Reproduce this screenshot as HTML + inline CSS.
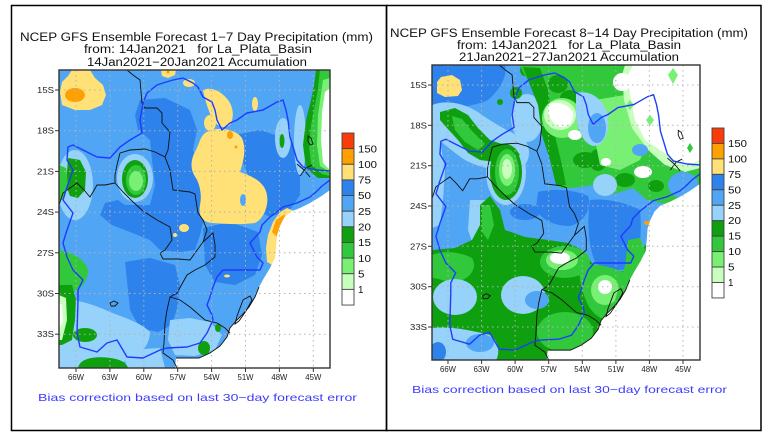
<!DOCTYPE html>
<html><head><meta charset="utf-8"><style>
html,body{margin:0;padding:0;background:#fff;}
svg{display:block;}
text{font-family:"Liberation Sans",sans-serif;white-space:pre;}
</style></head><body>
<svg width="769" height="436" viewBox="0 0 769 436" xmlns="http://www.w3.org/2000/svg">
<defs>
<clipPath id="cL"><rect x="59" y="70" width="271" height="298"/></clipPath>
<clipPath id="cR"><rect x="432" y="65" width="268" height="295"/></clipPath>
<path id="ocean" d="M330,190 L320,197 L310,203 L300,208 L290,212 L284,218 L280,226 L277,235 L276,248 L275,258 L270,268 L264,278 L259,287 L255,297 L249,307 L243,314 L236,321 L230,328 L227,337 L220,346 L210,353 L199,358 L176,358 L175,368 L330,368 Z" fill="#fff"/>
<g id="geo" fill="none">
 <g stroke="#111" stroke-width="0.9">
  <polyline points="127,70 133,75 140,80 141,92 142,103 145,108 157,108 162,113 162,123 170,132 168,150 165,157 170,170 173,190 190,192 195,194 197,207 198,213 203,220 207,230 203,242"/>
  <polyline points="120,153 130,150 145,149 155,152 165,157"/>
  <polyline points="120,153 117,165 115,175 115,183 105,185 97,185 93,192 90,197 84,190 77,183 70,188 63,193 59,205"/>
  <polyline points="115,183 123,192 133,202 143,211 157,220 170,227 172,240 165,250 160,253 163,259 178,259 190,260 195,253 203,242"/>
  <polyline points="203,242 213,233 215,245 215,257 205,265 195,270 187,275 177,293 170,297 167,310 165,323 164,343 163,353 173,360 177,368"/>
  <polyline points="170,297 180,300 190,307 197,313 205,320 217,323 225,328 230,333"/>
  <polyline points="259,287 255,297 249,307 243,314 236,321 230,328 227,337 220,346 210,353 199,358 176,358"/>
  <path d="M243,300 L250,296 L252,300 L246,311 L239,321 L235,324 L237,316 Z"/>
  <path d="M110,303 L114,301 L118,303 L115,306 L111,306 Z"/>
  <path d="M308,136 L311,138 L313,144 L310,145 L308,141 Z"/>
  <polyline points="297,164 304,170 310,177"/>
  <polyline points="300,176 306,168 312,165"/>
 </g>
 <polyline stroke="#1e3cff" stroke-width="1.4" stroke-linejoin="round" points="183,78 193,83 198,87 203,97 212,102 215,110 217,120 222,130 230,123 237,120 247,113 263,110 277,102 283,100 286,110 288,120 290,137 294,150 297,160 303,167 317,170 330,171"/>
 <polyline stroke="#1e3cff" stroke-width="1.4" stroke-linejoin="round" points="330,180 322,186 316,192 310,197 297,203 283,207 270,217 262,225 260,232 250,243 257,257 263,263 260,270 243,270 223,270 217,277 213,287 210,297 207,305 212,315 213,320 207,333 200,343 187,347 167,348 160,350 143,358 127,357 117,340 107,343 97,352 80,347 77,333 78,300 78,290 83,280 73,270 67,257 63,243 67,230 73,213 63,200 67,187 73,170 67,160 68,147 73,145 83,150 97,157 110,158 120,147 130,140 142,133 140,120 143,103 147,93 157,85 163,83 173,80 183,78"/>
</g>
</defs>

<!-- panel frames -->
<rect x="11.5" y="5.5" width="375" height="425" fill="none" stroke="#000" stroke-width="1.5"/>
<rect x="386.5" y="5.5" width="374.5" height="425" fill="none" stroke="#000" stroke-width="1.5"/>

<!-- titles -->
<text x="20" y="41" font-size="11.5" textLength="353" lengthAdjust="spacingAndGlyphs" fill="#111">NCEP GFS Ensemble Forecast 1−7 Day Precipitation (mm)</text>
<text x="84" y="53" font-size="11.5" textLength="228" lengthAdjust="spacingAndGlyphs" fill="#111">from: 14Jan2021   for La_Plata_Basin</text>
<text x="87" y="66" font-size="11.5" textLength="220" lengthAdjust="spacingAndGlyphs" fill="#111">14Jan2021−20Jan2021 Accumulation</text>

<text x="390" y="37" font-size="11.5" textLength="358" lengthAdjust="spacingAndGlyphs" fill="#111">NCEP GFS Ensemble Forecast 8−14 Day Precipitation (mm)</text>
<text x="457" y="49" font-size="11.5" textLength="224" lengthAdjust="spacingAndGlyphs" fill="#111">from: 14Jan2021   for La_Plata_Basin</text>
<text x="459" y="61" font-size="11.5" textLength="220" lengthAdjust="spacingAndGlyphs" fill="#111">21Jan2021−27Jan2021 Accumulation</text>

<!-- ================= LEFT MAP ================= -->
<g clip-path="url(#cL)">
<rect x="59" y="70" width="271" height="298" fill="#50a5f5"/>
<path fill="#2d82eb" d="M140,100 L165,98 L190,110 L197,130 L193,150 L200,170 L205,190 L205,215 L200,235 L195,250 L180,252 L160,250 L150,240 L130,232 L112,225 L100,215 L105,203 L118,200 L125,205 L150,205 L155,185 L152,160 L150,140 L138,130 L135,115 Z"/>
<path fill="#2d82eb" d="M125,262 L150,258 L175,265 L180,285 L178,305 L172,325 L158,332 L140,328 L130,310 L128,290 Z"/>
<path fill="#2d82eb" d="M235,135 L260,130 L290,140 L300,165 L300,195 L290,210 L270,217 L262,213 L255,200 L248,175 L240,155 Z"/>
<path fill="#2d82eb" d="M203,228 L230,222 L258,232 L262,255 L255,275 L235,285 L215,282 L205,265 Z"/>
<path fill="#96d2fa" d="M59,300 C75,298 95,305 110,312 C125,318 140,322 150,332 C150,345 140,355 130,360 C110,366 90,368 59,368 Z"/>
<path fill="#96d2fa" d="M170,320 L190,318 L210,322 L222,335 L215,350 L195,356 L175,355 L168,340 Z"/>
<path fill="#96d2fa" d="M127,350 L160,348 L165,368 L125,368 Z"/>
<ellipse cx="75" cy="185" rx="18" ry="35" fill="#96d2fa"/>
<ellipse cx="283" cy="138" rx="8" ry="20" fill="#96d2fa"/>
<ellipse cx="300" cy="140" rx="6" ry="35" fill="#96d2fa"/>
<ellipse cx="135" cy="178" rx="18" ry="24" fill="#96d2fa"/>
<ellipse cx="135" cy="179" rx="13" ry="19" fill="#0fa00f"/>
<ellipse cx="136" cy="180" rx="10" ry="15" fill="#32c83c"/>
<ellipse cx="136" cy="181" rx="7" ry="10" fill="#78f073"/>
<path fill="#0fa00f" d="M68,158 L80,160 L86,172 L85,190 L78,198 L70,196 L66,185 Z"/>
<path fill="#32c83c" d="M59,165 L66,168 L68,185 L62,200 L59,200 Z"/>
<path fill="#32c83c" d="M59,250 C70,252 85,258 88,270 C88,282 80,290 72,292 L59,292 Z"/>
<path fill="#0fa00f" d="M59,285 L72,285 L76,300 L75,320 L72,340 L62,345 L59,345 Z"/>
<path fill="#c8ffbe" d="M59,295 L66,298 L67,320 L62,340 L59,340 Z"/>
<path fill="#fff" d="M59,303 L62,305 L63,322 L59,328 Z"/>
<ellipse cx="85" cy="335" rx="12" ry="7" fill="#0fa00f"/>
<path fill="#0fa00f" d="M78,368 C80,358 95,356 110,358 C120,359 127,363 128,368 Z"/>
<ellipse cx="218" cy="328" rx="3" ry="4" fill="#0fa00f"/>
<ellipse cx="204" cy="348" rx="6" ry="7" fill="#0fa00f"/>
<ellipse cx="282" cy="141" rx="2.5" ry="7" fill="#0fa00f"/>
<path fill="#0fa00f" d="M316,70 L330,70 L330,178 L318,178 L306,168 L303,145 L306,120 L311,100 L314,85 Z"/>
<path fill="#32c83c" d="M320,70 L330,70 L330,176 L322,174 L311,164 L309,145 L311,125 L315,105 L318,88 Z"/>
<path fill="#78f073" d="M323,80 L330,78 L330,172 L320,166 L317,145 L318,115 Z"/>
<path fill="#fff" d="M325,92 L330,88 L330,170 L323,163 L321,140 L322,112 Z"/>
<path fill="#ffe178" d="M72,70 L90,70 L95,78 L103,85 L106,95 L102,105 L90,110 L75,110 L62,105 L60,92 L62,82 L68,76 Z"/>
<ellipse cx="75" cy="95" rx="10" ry="7" fill="#ffa000"/>
<path fill="#ffe178" d="M161,70 L176,70 L175,75 L168,78 L162,76 Z"/>
<circle cx="168" cy="72" r="1.5" fill="#ffa000"/>
<ellipse cx="189" cy="83" rx="6" ry="4" fill="#ffe178"/>
<path fill="#ffe178" d="M203,90 C212,86 222,92 228,100 C234,108 234,118 230,125 C224,130 216,126 212,118 C208,110 205,100 203,90 Z"/>
<ellipse cx="210" cy="123" rx="6" ry="8" fill="#ffe178"/>
<ellipse cx="255" cy="104" rx="3" ry="7" fill="#ffe178"/>
<path fill="#ffe178" d="M205,133 C215,126 235,128 242,138 C247,150 243,162 240,172 C252,176 265,182 267,195 C269,208 262,220 255,223 C240,225 225,224 212,223 C202,222 198,215 200,205 C202,195 200,185 196,178 C190,170 190,160 196,150 C200,142 200,137 205,133 Z"/>
<ellipse cx="243" cy="200" rx="3" ry="6" fill="#50a5f5"/>
<ellipse cx="230" cy="135" rx="3" ry="4" fill="#ffa000"/>
<circle cx="236" cy="147" r="1.5" fill="#ffa000"/>
<ellipse cx="184" cy="228" rx="5" ry="4" fill="#ffe178"/>
<circle cx="175" cy="235" r="2" fill="#ffe178"/>
<path fill="#ffe178" d="M287,208 L294,211 L288,222 L281,232 L278,245 L277,258 L272,265 L267,262 L266,248 L268,235 L273,222 L280,212 Z"/>
<path fill="#ffa000" d="M276,220 L285,214 L283,228 L277,237 L272,232 Z"/>
<ellipse cx="227" cy="276" rx="3" ry="1.5" fill="#ffe178"/>
<use href="#ocean"/>
<use href="#geo"/>
<g stroke="#b4b4b4" stroke-width="1" stroke-dasharray="1.5,3.5">
<line x1="76" y1="70" x2="76" y2="368"/><line x1="109.9" y1="70" x2="109.9" y2="368"/><line x1="143.8" y1="70" x2="143.8" y2="368"/><line x1="177.7" y1="70" x2="177.7" y2="368"/><line x1="211.6" y1="70" x2="211.6" y2="368"/><line x1="245.5" y1="70" x2="245.5" y2="368"/><line x1="279.4" y1="70" x2="279.4" y2="368"/><line x1="313.3" y1="70" x2="313.3" y2="368"/>
<line x1="59" y1="90" x2="330" y2="90"/><line x1="59" y1="130.7" x2="330" y2="130.7"/><line x1="59" y1="171.4" x2="330" y2="171.4"/><line x1="59" y1="212.1" x2="330" y2="212.1"/><line x1="59" y1="252.8" x2="330" y2="252.8"/><line x1="59" y1="293.5" x2="330" y2="293.5"/><line x1="59" y1="334.2" x2="330" y2="334.2"/>
</g>
</g>
<rect x="59" y="70" width="271" height="298" fill="none" stroke="#333" stroke-width="1.4"/>
<g stroke="#333" stroke-width="1">
<line x1="55" y1="90" x2="59" y2="90"/><line x1="55" y1="130.7" x2="59" y2="130.7"/><line x1="55" y1="171.4" x2="59" y2="171.4"/><line x1="55" y1="212.1" x2="59" y2="212.1"/><line x1="55" y1="252.8" x2="59" y2="252.8"/><line x1="55" y1="293.5" x2="59" y2="293.5"/><line x1="55" y1="334.2" x2="59" y2="334.2"/>
<line x1="76" y1="368" x2="76" y2="372"/><line x1="109.9" y1="368" x2="109.9" y2="372"/><line x1="143.8" y1="368" x2="143.8" y2="372"/><line x1="177.7" y1="368" x2="177.7" y2="372"/><line x1="211.6" y1="368" x2="211.6" y2="372"/><line x1="245.5" y1="368" x2="245.5" y2="372"/><line x1="279.4" y1="368" x2="279.4" y2="372"/><line x1="313.3" y1="368" x2="313.3" y2="372"/>
</g>
<g font-size="8.5" fill="#222" text-anchor="end">
<text x="54" y="93" textLength="17" lengthAdjust="spacingAndGlyphs">15S</text>
<text x="54" y="133.7" textLength="17" lengthAdjust="spacingAndGlyphs">18S</text>
<text x="54" y="174.4" textLength="17" lengthAdjust="spacingAndGlyphs">21S</text>
<text x="54" y="215.1" textLength="17" lengthAdjust="spacingAndGlyphs">24S</text>
<text x="54" y="255.8" textLength="17" lengthAdjust="spacingAndGlyphs">27S</text>
<text x="54" y="296.5" textLength="17" lengthAdjust="spacingAndGlyphs">30S</text>
<text x="54" y="337.2" textLength="17" lengthAdjust="spacingAndGlyphs">33S</text>
</g>
<g font-size="8.5" fill="#222">
<text x="68" y="380" textLength="16" lengthAdjust="spacingAndGlyphs">66W</text>
<text x="101.9" y="380" textLength="16" lengthAdjust="spacingAndGlyphs">63W</text>
<text x="135.8" y="380" textLength="16" lengthAdjust="spacingAndGlyphs">60W</text>
<text x="169.7" y="380" textLength="16" lengthAdjust="spacingAndGlyphs">57W</text>
<text x="203.6" y="380" textLength="16" lengthAdjust="spacingAndGlyphs">54W</text>
<text x="237.5" y="380" textLength="16" lengthAdjust="spacingAndGlyphs">51W</text>
<text x="271.4" y="380" textLength="16" lengthAdjust="spacingAndGlyphs">48W</text>
<text x="305.3" y="380" textLength="16" lengthAdjust="spacingAndGlyphs">45W</text>
</g>
<g stroke="#444" stroke-width="0.9">
<rect x="342" y="133" width="12" height="15.64" fill="#fa3c0a"/>
<rect x="342" y="148.64" width="12" height="15.64" fill="#ffa000"/>
<rect x="342" y="164.28" width="12" height="15.64" fill="#ffe178"/>
<rect x="342" y="179.92" width="12" height="15.64" fill="#2d82eb"/>
<rect x="342" y="195.56" width="12" height="15.64" fill="#50a5f5"/>
<rect x="342" y="211.2" width="12" height="15.64" fill="#96d2fa"/>
<rect x="342" y="226.84" width="12" height="15.64" fill="#0fa00f"/>
<rect x="342" y="242.48" width="12" height="15.64" fill="#32c83c"/>
<rect x="342" y="258.12" width="12" height="15.64" fill="#78f073"/>
<rect x="342" y="273.76" width="12" height="15.64" fill="#c8ffbe"/>
<rect x="342" y="289.4" width="12" height="15.64" fill="#fff"/>
</g>
<g font-size="10" fill="#111">
<text x="358" y="152.3" textLength="19" lengthAdjust="spacingAndGlyphs">150</text>
<text x="358" y="167.9" textLength="19" lengthAdjust="spacingAndGlyphs">100</text>
<text x="358" y="183.6" textLength="13" lengthAdjust="spacingAndGlyphs">75</text>
<text x="358" y="199.2" textLength="13" lengthAdjust="spacingAndGlyphs">50</text>
<text x="358" y="214.9" textLength="13" lengthAdjust="spacingAndGlyphs">25</text>
<text x="358" y="230.5" textLength="13" lengthAdjust="spacingAndGlyphs">20</text>
<text x="358" y="246.2" textLength="13" lengthAdjust="spacingAndGlyphs">15</text>
<text x="358" y="261.8" textLength="13" lengthAdjust="spacingAndGlyphs">10</text>
<text x="358" y="277.5" textLength="6.5" lengthAdjust="spacingAndGlyphs">5</text>
<text x="358" y="293.1" textLength="5.5" lengthAdjust="spacingAndGlyphs">1</text>
</g>
<text x="38" y="401" font-size="10.5" fill="#3c3cff" textLength="319" lengthAdjust="spacingAndGlyphs">Bias correction based on last 30−day forecast error</text>

<!-- ================= RIGHT MAP ================= -->
<g clip-path="url(#cR)">
<rect x="432" y="65" width="268" height="295" fill="#50a5f5"/>
<path fill="#2d82eb" d="M432,65 L505,65 C508,75 500,90 488,100 C475,106 455,108 432,112 Z"/>
<path fill="#2d82eb" d="M538,192 C555,188 575,190 588,196 C592,208 585,222 570,226 C555,226 540,220 536,208 Z"/>
<path fill="#2d82eb" d="M590,200 C605,198 625,202 640,210 C642,230 640,250 635,265 C625,272 605,272 595,262 C588,245 587,220 590,200 Z"/>
<ellipse cx="525" cy="212" rx="15" ry="8" fill="#2d82eb"/>
<path fill="#ffe178" d="M441,77 L452,75 L460,80 L462,90 L458,96 L445,97 L437,93 L437,82 Z"/>
<path fill="#96d2fa" d="M432,105 C445,100 462,102 478,112 C495,125 512,132 525,140 C532,150 530,165 518,170 C500,172 480,168 465,160 C450,150 440,140 432,135 Z"/>
<ellipse cx="527" cy="118" rx="16" ry="24" fill="#96d2fa"/>
<path fill="#96d2fa" d="M432,135 L440,140 L445,170 L443,200 L440,225 L432,228 Z"/>
<ellipse cx="506" cy="172" rx="20" ry="33" fill="#96d2fa"/>
<path fill="#96d2fa" d="M470,200 L490,200 L493,225 L488,250 L475,250 L468,230 Z"/>
<path fill="#0fa00f" d="M440,112 L455,108 L468,115 L478,128 L490,140 L505,145 L515,148 L520,155 L510,160 L495,162 L480,160 L468,153 L458,140 L447,128 L440,120 Z"/>
<path fill="#32c83c" d="M452,116 L462,119 L472,131 L485,144 L478,150 L465,142 L455,130 Z"/>
<ellipse cx="500" cy="102" rx="3" ry="3" fill="#0fa00f"/>
<ellipse cx="516" cy="93" rx="6" ry="6" fill="#0fa00f"/>
<ellipse cx="525" cy="70" rx="5" ry="6" fill="#0fa00f"/>
<ellipse cx="506" cy="172" rx="16" ry="28" fill="#0fa00f"/>
<ellipse cx="507" cy="172" rx="12" ry="23" fill="#32c83c"/>
<ellipse cx="507" cy="170" rx="8" ry="16" fill="#78f073"/>
<ellipse cx="507" cy="169" rx="5" ry="10" fill="#c8ffbe"/>
<path fill="#32c83c" d="M520,65 L700,65 L700,195 L680,200 L667,204 L647,200 L633,188 L613,194 L600,184 L573,188 L560,188 L555,175 L552,160 L544,137 L540,105 L533,88 L523,72 Z"/>
<path fill="#0fa00f" d="M523,67 L540,68 L548,90 L552,115 L556,140 L562,165 L566,185 L556,185 L550,160 L542,135 L538,105 L530,85 Z"/>
<ellipse cx="570" cy="98" rx="10" ry="8" fill="#0fa00f"/>
<ellipse cx="558" cy="84" rx="10" ry="9" fill="#0fa00f"/>
<ellipse cx="585" cy="160" rx="12" ry="8" fill="#0fa00f"/>
<ellipse cx="598" cy="160" rx="9" ry="11" fill="#0fa00f"/>
<ellipse cx="625" cy="180" rx="10" ry="7" fill="#0fa00f"/>
<ellipse cx="656" cy="186" rx="8" ry="6" fill="#0fa00f"/>
<path fill="#78f073" d="M595,100 L625,95 L640,110 L650,135 L640,160 L620,170 L600,165 L595,140 Z"/>
<ellipse cx="562" cy="118" rx="20" ry="20" fill="#78f073"/>
<ellipse cx="560" cy="115" rx="16" ry="15" fill="#c8ffbe"/>
<path fill="#fff" d="M548,105 C555,100 568,104 573,112 C575,122 568,128 560,127 C552,124 547,115 548,105 Z"/>
<ellipse cx="575" cy="135" rx="7" ry="5" fill="#fff"/>
<path fill="#96d2fa" d="M576,93 C588,90 600,96 606,110 C612,126 606,146 593,146 C582,143 577,128 576,112 Z"/>
<ellipse cx="597" cy="128" rx="9" ry="15" fill="#50a5f5"/>
<path fill="#c8ffbe" d="M625,65 L700,65 L700,168 L685,172 L665,165 L648,150 L632,128 L624,100 L622,75 Z"/>
<path fill="#fff" d="M633,65 L700,65 L700,160 L690,165 L675,160 L660,150 L645,140 L635,120 L630,95 L628,75 Z"/>
<path fill="#78f073" d="M673,68 L678,75 L673,84 L668,75 Z"/>
<path fill="#32c83c" d="M690,143 L693,148 L690,153 L687,148 Z"/>
<path fill="#78f073" d="M630,100 L634,105 L630,110 L626,105 Z"/>
<path fill="#78f073" d="M650,115 L654,120 L650,126 L646,120 Z"/>
<ellipse cx="622" cy="82" rx="9" ry="9" fill="#fff"/>
<ellipse cx="643" cy="172" rx="9" ry="6" fill="#fff"/>
<ellipse cx="606" cy="162" rx="5" ry="4" fill="#fff"/>
<ellipse cx="640" cy="150" rx="8" ry="6" fill="#50a5f5"/>
<ellipse cx="683" cy="185" rx="15" ry="13" fill="#50a5f5"/>
<ellipse cx="605" cy="185" rx="12" ry="11" fill="#96d2fa"/>
<path fill="#0fa00f" d="M432,250 L455,248 L472,240 L480,225 L480,205 L490,196 L500,210 L505,230 L525,237 L548,240 L568,243 L582,250 L592,263 L605,272 L625,271 L636,262 L645,245 L660,250 L660,362 L432,362 Z"/>
<path fill="#32c83c" d="M432,255 C445,250 460,252 472,258 C478,268 470,280 455,282 C445,282 438,278 432,278 Z"/>
<path fill="#32c83c" d="M482,205 L490,205 L494,225 L488,240 L482,232 Z"/>
<ellipse cx="565" cy="262" rx="25" ry="16" fill="#32c83c"/>
<ellipse cx="562" cy="260" rx="16" ry="10" fill="#78f073"/>
<ellipse cx="560" cy="258" rx="10" ry="6" fill="#fff"/>
<ellipse cx="565" cy="332" rx="28" ry="20" fill="#32c83c"/>
<path fill="#32c83c" d="M580,265 C595,262 615,268 630,275 C638,290 635,310 625,320 C610,325 595,318 588,305 C582,292 578,278 580,265 Z"/>
<ellipse cx="605" cy="290" rx="14" ry="15" fill="#78f073"/>
<ellipse cx="605" cy="287" rx="7" ry="7" fill="#fff"/>
<path fill="#32c83c" d="M628,240 L640,238 L645,250 L640,270 L632,295 L620,315 L612,310 L618,290 L625,265 Z"/>
<ellipse cx="455" cy="297" rx="22" ry="18" fill="#96d2fa"/>
<ellipse cx="523" cy="295" rx="22" ry="19" fill="#96d2fa"/>
<ellipse cx="537" cy="300" rx="12" ry="9" fill="#50a5f5"/>
<path fill="#96d2fa" d="M432,328 C450,326 470,330 490,335 C500,342 500,355 495,362 L432,362 Z"/>
<ellipse cx="480" cy="343" rx="14" ry="9" fill="#50a5f5"/>
<ellipse cx="438" cy="352" rx="8" ry="10" fill="#2d82eb"/>
<ellipse cx="647" cy="223" rx="3" ry="2" fill="#ffa000"/>
<g transform="translate(432,65) scale(0.989,0.99) translate(-59,-70)">
<use href="#ocean"/>
<use href="#geo"/>
</g>
<g stroke="#b4b4b4" stroke-width="1" stroke-dasharray="1.5,3.5">
<line x1="448" y1="65" x2="448" y2="360"/><line x1="481.6" y1="65" x2="481.6" y2="360"/><line x1="515.1" y1="65" x2="515.1" y2="360"/><line x1="548.7" y1="65" x2="548.7" y2="360"/><line x1="582.3" y1="65" x2="582.3" y2="360"/><line x1="615.9" y1="65" x2="615.9" y2="360"/><line x1="649.4" y1="65" x2="649.4" y2="360"/><line x1="683" y1="65" x2="683" y2="360"/>
<line x1="432" y1="85" x2="700" y2="85"/><line x1="432" y1="125.3" x2="700" y2="125.3"/><line x1="432" y1="165.7" x2="700" y2="165.7"/><line x1="432" y1="206" x2="700" y2="206"/><line x1="432" y1="246.3" x2="700" y2="246.3"/><line x1="432" y1="286.7" x2="700" y2="286.7"/><line x1="432" y1="327" x2="700" y2="327"/>
</g>
</g>
<rect x="432" y="65" width="268" height="295" fill="none" stroke="#333" stroke-width="1.4"/>
<g stroke="#333" stroke-width="1">
<line x1="428" y1="85" x2="432" y2="85"/><line x1="428" y1="125.3" x2="432" y2="125.3"/><line x1="428" y1="165.7" x2="432" y2="165.7"/><line x1="428" y1="206" x2="432" y2="206"/><line x1="428" y1="246.3" x2="432" y2="246.3"/><line x1="428" y1="286.7" x2="432" y2="286.7"/><line x1="428" y1="327" x2="432" y2="327"/>
<line x1="448" y1="360" x2="448" y2="364"/><line x1="481.6" y1="360" x2="481.6" y2="364"/><line x1="515.1" y1="360" x2="515.1" y2="364"/><line x1="548.7" y1="360" x2="548.7" y2="364"/><line x1="582.3" y1="360" x2="582.3" y2="364"/><line x1="615.9" y1="360" x2="615.9" y2="364"/><line x1="649.4" y1="360" x2="649.4" y2="364"/><line x1="683" y1="360" x2="683" y2="364"/>
</g>
<g font-size="8.5" fill="#222" text-anchor="end">
<text x="427" y="88" textLength="17" lengthAdjust="spacingAndGlyphs">15S</text>
<text x="427" y="128.3" textLength="17" lengthAdjust="spacingAndGlyphs">18S</text>
<text x="427" y="168.7" textLength="17" lengthAdjust="spacingAndGlyphs">21S</text>
<text x="427" y="209" textLength="17" lengthAdjust="spacingAndGlyphs">24S</text>
<text x="427" y="249.3" textLength="17" lengthAdjust="spacingAndGlyphs">27S</text>
<text x="427" y="289.7" textLength="17" lengthAdjust="spacingAndGlyphs">30S</text>
<text x="427" y="330" textLength="17" lengthAdjust="spacingAndGlyphs">33S</text>
</g>
<g font-size="8.5" fill="#222">
<text x="440" y="372" textLength="16" lengthAdjust="spacingAndGlyphs">66W</text>
<text x="473.6" y="372" textLength="16" lengthAdjust="spacingAndGlyphs">63W</text>
<text x="507.1" y="372" textLength="16" lengthAdjust="spacingAndGlyphs">60W</text>
<text x="540.7" y="372" textLength="16" lengthAdjust="spacingAndGlyphs">57W</text>
<text x="574.3" y="372" textLength="16" lengthAdjust="spacingAndGlyphs">54W</text>
<text x="607.9" y="372" textLength="16" lengthAdjust="spacingAndGlyphs">51W</text>
<text x="641.4" y="372" textLength="16" lengthAdjust="spacingAndGlyphs">48W</text>
<text x="675" y="372" textLength="16" lengthAdjust="spacingAndGlyphs">45W</text>
</g>
<g stroke="#444" stroke-width="0.9">
<rect x="712" y="128" width="12" height="15.45" fill="#fa3c0a"/>
<rect x="712" y="143.45" width="12" height="15.45" fill="#ffa000"/>
<rect x="712" y="158.9" width="12" height="15.45" fill="#ffe178"/>
<rect x="712" y="174.35" width="12" height="15.45" fill="#2d82eb"/>
<rect x="712" y="189.8" width="12" height="15.45" fill="#50a5f5"/>
<rect x="712" y="205.25" width="12" height="15.45" fill="#96d2fa"/>
<rect x="712" y="220.7" width="12" height="15.45" fill="#0fa00f"/>
<rect x="712" y="236.15" width="12" height="15.45" fill="#32c83c"/>
<rect x="712" y="251.6" width="12" height="15.45" fill="#78f073"/>
<rect x="712" y="267.05" width="12" height="15.45" fill="#c8ffbe"/>
<rect x="712" y="282.5" width="12" height="15.45" fill="#fff"/>
</g>
<g font-size="10" fill="#111">
<text x="728" y="147" textLength="19" lengthAdjust="spacingAndGlyphs">150</text>
<text x="728" y="162.4" textLength="19" lengthAdjust="spacingAndGlyphs">100</text>
<text x="728" y="177.9" textLength="13" lengthAdjust="spacingAndGlyphs">75</text>
<text x="728" y="193.3" textLength="13" lengthAdjust="spacingAndGlyphs">50</text>
<text x="728" y="208.8" textLength="13" lengthAdjust="spacingAndGlyphs">25</text>
<text x="728" y="224.2" textLength="13" lengthAdjust="spacingAndGlyphs">20</text>
<text x="728" y="239.7" textLength="13" lengthAdjust="spacingAndGlyphs">15</text>
<text x="728" y="255.1" textLength="13" lengthAdjust="spacingAndGlyphs">10</text>
<text x="728" y="270.6" textLength="6.5" lengthAdjust="spacingAndGlyphs">5</text>
<text x="728" y="286" textLength="5.5" lengthAdjust="spacingAndGlyphs">1</text>
</g>
<text x="412" y="393" font-size="10.5" fill="#3c3cff" textLength="315" lengthAdjust="spacingAndGlyphs">Bias correction based on last 30−day forecast error</text>
</svg>
</body></html>
